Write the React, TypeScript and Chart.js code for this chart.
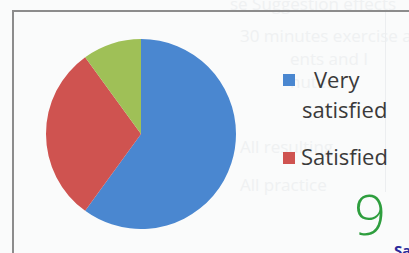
import React, { useEffect, useRef } from "react";
import { Chart, registerables } from "chart.js";

Chart.register(...registerables);

const categories = ["Very satisfied", "Satisfied", "Neutral"];
const values = [60, 30, 10];
const colors = ["#4a87d0", "#cf5350", "#9fc057"];
const legendLines = [["Very", "satisfied"], ["Satisfied"]];
const ghostLines = [
  "se Suggestion effects",
  "30 minutes exercise and 30 mi",
  "ents and I",
  "nutes",
  "All resulting",
  "All practice",
];

export default function App() {
  const ref = useRef<HTMLCanvasElement | null>(null);
  useEffect(() => {
    document.body.style.margin = "0";
    const chart = new Chart(ref.current as HTMLCanvasElement, {
      type: "pie",
      data: {
        labels: categories,
        datasets: [
          {
            data: values,
            backgroundColor: colors,
            borderWidth: 0,
            hoverOffset: 0,
          },
        ],
      },
      options: {
        responsive: false,
        animation: false,
        layout: { padding: 0 },
        plugins: { legend: { display: false }, tooltip: { enabled: false } },
      },
    });
    return () => chart.destroy();
  }, []);

  const ghostPos = [
    { left: 230, top: -8 },
    { left: 240, top: 24 },
    { left: 290, top: 47 },
    { left: 290, top: 70 },
    { left: 240, top: 135 },
    { left: 240, top: 173 },
  ];

  const legendText = {
    position: "absolute" as const,
    fontSize: 22,
    color: "#3a3a3a",
    lineHeight: "30px",
    whiteSpace: "nowrap" as const,
    fontFamily: "'Open Sans', sans-serif",
  };

  return (
    <div
      style={{
        position: "fixed",
        left: 0,
        top: 0,
        width: 409,
        height: 253,
        overflow: "hidden",
        background: "#fafbfb",
        fontFamily: "'Open Sans', sans-serif",
      }}
    >
      {ghostLines.map((t, i) => (
        <div
          key={i}
          style={{
            position: "absolute",
            left: ghostPos[i].left,
            top: ghostPos[i].top,
            fontSize: 17,
            color: "#eff1f2",
            whiteSpace: "nowrap",
          }}
        >
          {t}
        </div>
      ))}
      <div style={{ position: "absolute", left: 385, top: 12, width: 1, height: 180, background: "#eceef0" }} />
      <div style={{ position: "absolute", left: 12, top: 10, width: 400, height: 2, background: "#8c8c8c" }} />
      <div style={{ position: "absolute", left: 12, top: 10, width: 2, height: 250, background: "#8c8c8c" }} />
      <canvas
        ref={ref}
        width={190}
        height={190}
        style={{ position: "absolute", left: 46, top: 39, width: 190, height: 190 }}
      />
      <div style={{ position: "absolute", left: 283, top: 74, width: 12, height: 12, background: colors[0] }} />
      <div style={{ ...legendText, left: 314, top: 64 }}>{legendLines[0][0]}</div>
      <div style={{ ...legendText, left: 302, top: 94 }}>{legendLines[0][1]}</div>
      <div style={{ position: "absolute", left: 283, top: 152, width: 12, height: 12, background: colors[1] }} />
      <div style={{ ...legendText, left: 301, top: 141 }}>{legendLines[1][0]}</div>
      <div
        style={{
          position: "absolute",
          left: 354,
          top: 178,
          fontSize: 56,
          fontWeight: 300,
          color: "#2e9e3e",
          fontFamily: "'Open Sans', sans-serif",
          lineHeight: "70px",
        }}
      >
        9
      </div>
      <div
        style={{
          position: "absolute",
          left: 394,
          top: 240,
          fontSize: 15,
          fontWeight: 700,
          color: "#2a2a9a",
        }}
      >
        Sat
      </div>
    </div>
  );
}
